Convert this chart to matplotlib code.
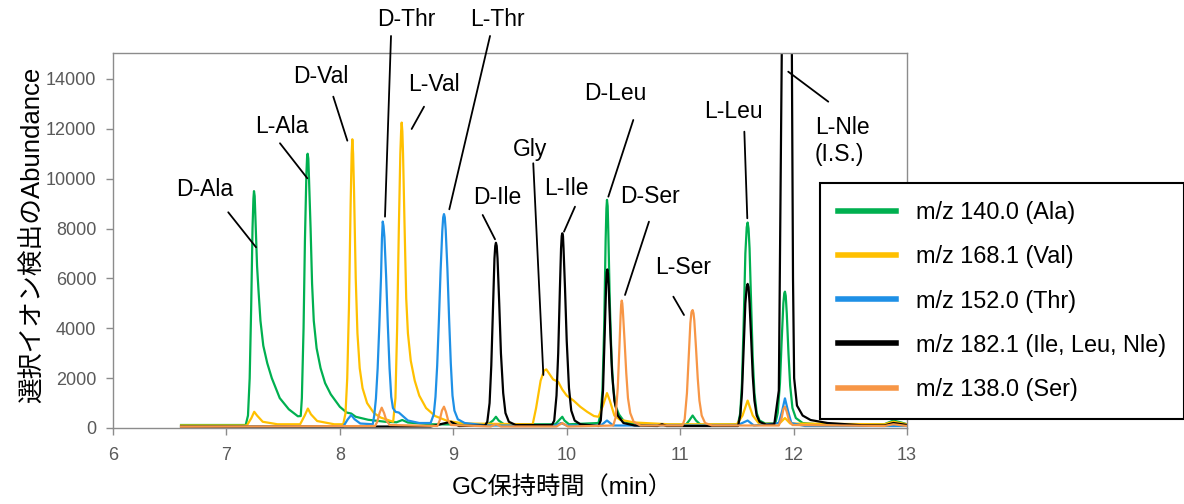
import matplotlib
matplotlib.use("Agg")
import matplotlib.pyplot as plt

# retention time (min) / abundance
ala_t = [6.60, 7.17, 7.19, 7.205, 7.218, 7.23, 7.238, 7.243, 7.249, 7.255, 7.27, 7.283, 7.30,
         7.325, 7.36, 7.40, 7.47, 7.55, 7.63, 7.655, 7.665, 7.68, 7.692, 7.705, 7.711, 7.716,
         7.722, 7.728, 7.742, 7.755, 7.77, 7.795, 7.83, 7.87, 7.92, 8.00, 8.06, 8.10, 8.14,
         8.25, 8.40, 8.50, 8.55, 8.60, 8.80, 9.30, 9.35, 9.376, 9.40, 9.45, 9.90, 9.94, 9.961,
         9.98, 10.02, 10.28, 10.30, 10.315, 10.33, 10.343, 10.35, 10.355, 10.361, 10.367, 10.38,
         10.395, 10.41, 10.43, 10.46, 10.50, 10.55, 10.70, 11.05, 11.08, 11.11, 11.14, 11.18,
         11.51, 11.53, 11.545, 11.56, 11.575, 11.587, 11.595, 11.603, 11.612, 11.627, 11.64,
         11.655, 11.675, 11.70, 11.75, 11.84, 11.86, 11.88, 11.895, 11.91, 11.918, 11.924,
         11.931, 11.94, 11.955, 11.97, 11.99, 12.02, 12.08, 12.20, 12.80, 12.88, 12.95, 13.00]
ala_y = [120, 120, 500, 2000, 4800, 8000, 9200, 9500, 9300, 8500, 6500, 5500, 4300,
         3300, 2600, 2000, 1200, 750, 470, 480, 1200, 4000, 7500, 10200, 10850, 11000,
         10800, 10000, 8000, 5800, 4300, 3200, 2400, 1800, 1350, 850, 620, 580, 450,
         330, 250, 230, 320, 220, 150, 130, 300, 450, 300, 140, 150, 350, 450,
         300, 150, 200, 600, 1500, 4000, 7500, 8800, 9150, 8900, 7800, 5000,
         2800, 1600, 900, 550, 300, 200, 130, 130, 300, 500, 300, 130,
         150, 600, 1800, 4200, 7000, 8050, 8240, 8000, 7200, 4800, 2800,
         1400, 600, 300, 180, 200, 600, 1800, 3500, 5000, 5400, 5470,
         5300, 4600, 3000, 1700, 800, 400, 200, 150, 150, 300, 220, 150]

val_t = [6.60, 7.18, 7.22, 7.245, 7.27, 7.32, 7.45, 7.65, 7.69, 7.718, 7.745, 7.80, 7.95, 8.03,
         8.05, 8.065, 8.08, 8.095, 8.104, 8.11, 8.117, 8.125, 8.14, 8.155, 8.175, 8.20, 8.24,
         8.30, 8.36, 8.45, 8.47, 8.49, 8.505, 8.52, 8.533, 8.54, 8.545, 8.551, 8.557, 8.57,
         8.585, 8.60, 8.625, 8.66, 8.70, 8.76, 8.84, 8.95, 9.10, 9.70, 9.73, 9.77, 9.80, 9.82,
         9.85, 9.88, 9.925, 9.96, 10.00, 10.06, 10.12, 10.18, 10.24, 10.28, 10.32, 10.355,
         10.38, 10.42, 10.47, 10.60, 10.90, 11.50, 11.55, 11.595, 11.64, 11.70, 11.88, 11.924,
         11.97, 12.80, 12.88, 13.00]
val_y = [100, 100, 400, 650, 500, 250, 150, 150, 500, 780, 550, 280, 150, 150,
         600, 2000, 4800, 9000, 11000, 11580, 11000, 9500, 6000, 3800, 2400, 1600, 1000,
         600, 420, 280, 250, 1200, 4000, 8000, 11000, 11900, 12250, 11900, 11000, 8200,
         5200, 3800, 2700, 1900, 1300, 800, 480, 280, 180, 150, 800, 1900, 2300, 2350,
         2150, 1950, 1850, 1550, 1300, 1100, 850, 650, 480, 450, 900, 1400,
         1100, 500, 330, 220, 150, 150, 500, 1100, 500, 150, 200, 400,
         180, 150, 250, 150]

thr_t = [6.60, 8.03, 8.07, 8.10, 8.13, 8.18, 8.29, 8.303, 8.318, 8.333, 8.348, 8.363, 8.371,
         8.378, 8.385, 8.393, 8.408, 8.423, 8.438, 8.453, 8.468, 8.49, 8.52, 8.55, 8.60, 8.70,
         8.80, 8.828, 8.843, 8.858, 8.873, 8.888, 8.903, 8.911, 8.918, 8.925, 8.933, 8.948,
         8.963, 8.978, 8.993, 9.01, 9.04, 9.10, 9.30, 9.90, 9.95, 10.00, 10.30, 10.355, 10.41,
         11.50, 11.595, 11.65, 11.87, 11.90, 11.924, 11.95, 11.98, 12.10, 13.00]
thr_y = [50, 60, 350, 520, 350, 180, 150, 500, 1180, 2380, 4110, 6070, 7600,
         8280, 8100, 7660, 6070, 4110, 2400, 1250, 800, 650, 620, 500, 300, 200,
         200, 550, 1250, 2500, 4300, 6300, 7900, 8450, 8580, 8450, 7950, 6400,
         4400, 2600, 1300, 700, 350, 200, 100, 100, 200, 100, 100, 300, 100,
         100, 300, 100, 200, 700, 1190, 700, 200, 80, 80]

ile_t = [6.60, 8.80, 8.98, 9.05, 9.28, 9.30, 9.32, 9.335, 9.35, 9.363, 9.37, 9.376, 9.383,
         9.39, 9.405, 9.42, 9.44, 9.46, 9.49, 9.55, 9.87, 9.89, 9.91, 9.925, 9.94, 9.95, 9.956,
         9.961, 9.967, 9.972, 9.985, 10.00, 10.02, 10.04, 10.07, 10.12, 10.28, 10.30, 10.32,
         10.335, 10.348, 10.353, 10.358, 10.364, 10.37, 10.385, 10.40, 10.42, 10.45, 10.50,
         10.60, 10.80, 10.84, 10.88, 11.51, 11.53, 11.545, 11.56, 11.575, 11.587, 11.595,
         11.603, 11.612, 11.627, 11.64, 11.655, 11.675, 11.70, 11.76, 11.83, 11.87, 11.89,
         11.945, 11.985, 11.995, 12.005, 12.03, 12.08, 12.15, 12.30, 12.60, 12.80, 12.88,
         13.00]
ile_y = [50, 60, 250, 80, 100, 250, 1000, 2500, 4800, 6800, 7300, 7430, 7300,
         6800, 5000, 3000, 1400, 600, 250, 120, 120, 300, 1300, 3000, 5600, 7200, 7700,
         7810, 7700, 7200, 5600, 3500, 1600, 700, 300, 150, 80, 300, 1500,
         3800, 5800, 6250, 6360, 6200, 5700, 3800, 2200, 1100, 500, 200,
         100, 80, 150, 80, 80, 500, 1400, 3200, 5000, 5650, 5780,
         5650, 5000, 3500, 2100, 1100, 500, 250, 130, 150, 1500, 12000,
         40000, 15000, 6000, 2000, 900, 500, 320, 200, 110, 100, 200,
         120]

ser_t = [6.60, 8.31, 8.33, 8.35, 8.369, 8.39, 8.41, 8.44, 8.86, 8.88, 8.90, 8.918, 8.935,
         8.955, 8.98, 9.33, 9.376, 9.42, 9.91, 9.961, 10.01, 10.41, 10.43, 10.45, 10.465,
         10.475, 10.48, 10.485, 10.49, 10.495, 10.51, 10.525, 10.54, 10.56, 10.59, 10.65,
         11.02, 11.04, 11.06, 11.075, 11.09, 11.10, 11.11, 11.118, 11.125, 11.14, 11.155,
         11.17, 11.19, 11.22, 11.28, 11.87, 11.895, 11.91, 11.924, 11.94, 11.96, 11.99,
         12.80, 12.88, 13.00]
ser_y = [50, 80, 250, 600, 815, 600, 300, 120, 80, 300, 700, 855, 650,
         300, 120, 60, 150, 60, 60, 200, 60, 100, 400, 1600, 3300,
         4500, 4950, 5110, 5000, 4700, 3500, 2200, 1200, 600, 250, 100,
         100, 350, 1400, 2800, 4200, 4650, 4730, 4600, 4300, 3200, 2000,
         1100, 500, 200, 100, 100, 400, 750, 855, 650, 300, 120,
         80, 150, 80]

labels = ["m/z 140.0 (Ala)", "m/z 168.1 (Val)", "m/z 152.0 (Thr)",
          "m/z 182.1 (Ile, Leu, Nle)", "m/z 138.0 (Ser)"]
colors = ["#00B050", "#FFC000", "#1E90E6", "#000000", "#F79646"]

# peak name, text position, leader line start, leader line end
peak_names = ["D-Ala", "L-Ala", "D-Val", "L-Val", "D-Thr", "L-Thr", "D-Ile", "Gly",
              "L-Ile", "D-Leu", "D-Ser", "L-Ser", "L-Leu"]
peak_text = [(6.811, 9546), (7.490, 12073), (7.834, 14079), (8.830, 13758), (8.583, 16365),
             (9.385, 16365), (9.385, 9225), (9.676, 11151), (9.994, 9586), (10.426, 13397),
             (10.734, 9265), (11.025, 6418), (11.466, 12675)]
peak_from = [(7.016, 8652), (7.472, 11420), (7.942, 13289), (8.742, 12887), (8.451, 15723),
             (9.324, 15723), (9.259, 8543), (9.705, 10617), (10.073, 8876), (10.587, 12354),
             (10.725, 8275), (10.940, 5267), (11.566, 11885)]
peak_to = [(7.261, 7248), (7.713, 10016), (8.066, 11524), (8.633, 11993), (8.398, 8476),
           (8.965, 8772), (9.368, 7569), (9.794, 2126), (9.976, 7874), (10.367, 9278),
           (10.514, 5335), (11.034, 4532), (11.592, 8411)]

latin = ["Liberation Sans", "DejaVu Sans"]
jp = ["Liberation Sans", "Noto Sans CJK JP", "DejaVu Sans"]


def main():
    fig = plt.figure(figsize=(11.84, 5.04), dpi=100)
    ax = fig.add_axes([113 / 1184, 1 - 428 / 504, (907 - 113) / 1184, (428 - 53) / 504])

    series = [(ala_t, ala_y), (val_t, val_y), (thr_t, thr_y), (ile_t, ile_y), (ser_t, ser_y)]
    handles = []
    for (t, y), c, lab in zip(series, colors, labels):
        h, = ax.plot(t, y, color=c, lw=1.6, label=lab)
        handles.append(h)

    ax.set_xlim(6, 13)
    ax.set_ylim(0, 15040)
    ax.set_xticks(range(6, 14))
    ax.set_yticks(range(0, 14001, 2000))
    for s in ax.spines.values():
        s.set_color("#8C8C8C")
        s.set_linewidth(1.0)
    ax.tick_params(colors="#8C8C8C", labelcolor="#595959", length=5, width=1.0)
    ax.tick_params(axis="x", pad=9)
    ax.tick_params(axis="y", pad=7)
    for lab in ax.get_xticklabels() + ax.get_yticklabels():
        lab.set_family(latin)
        lab.set_fontsize(13)

    ax.set_xlabel("GC保持時間（min）", family=jp, fontsize=17.5)
    ax.xaxis.set_label_coords((562 - 113) / 794, (428 - 488) / 375)
    ax.xaxis.label.set_va("center")
    ax.set_ylabel("選択イオン検出のAbundance", family=jp, fontsize=18.5)
    ax.yaxis.set_label_coords((33 - 113) / 794, (428 - 235) / 375)
    ax.yaxis.label.set_va("center")

    for name, txt, p0, p1 in zip(peak_names, peak_text, peak_from, peak_to):
        ax.text(txt[0], txt[1], name, ha="center", va="center", family=latin,
                fontsize=16.5, clip_on=False)
        ax.annotate("", xy=p1, xytext=p0, annotation_clip=False,
                    arrowprops=dict(arrowstyle="-", color="black", lw=1.3,
                                    shrinkA=0, shrinkB=0))
    ax.text(12.186, 11500, "L-Nle\n(I.S.)", ha="left", va="center", family=latin,
            fontsize=16.5, linespacing=1.2, clip_on=False)
    ax.annotate("", xy=(12.306, 13088), xytext=(11.953, 14291), annotation_clip=False,
                arrowprops=dict(arrowstyle="-", color="black", lw=1.3, shrinkA=0, shrinkB=0))

    leg = ax.legend(handles=handles, loc="upper left",
                    bbox_to_anchor=(820 / 1184, 1 - 183 / 504), bbox_transform=fig.transFigure,
                    borderaxespad=0, fancybox=False, framealpha=1, edgecolor="black",
                    prop={"family": latin, "size": 16.9}, handlelength=2.45, handletextpad=0.85,
                    labelspacing=0.9, borderpad=0.78)
    leg.get_frame().set_linewidth(1.5)
    for lh in leg.get_lines():
        lh.set_linewidth(4)

    fig.savefig("out.png", dpi=100)


if __name__ == '__main__':
    main()
